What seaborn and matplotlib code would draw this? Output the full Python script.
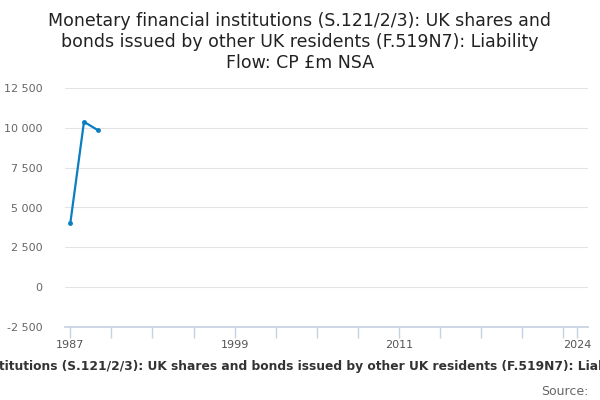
import matplotlib
matplotlib.use('Agg')
import matplotlib.pyplot as plt
import seaborn as sns
import pandas as pd
from matplotlib.ticker import FuncFormatter

sns.set_theme(style="white")
plt.rcParams['font.family'] = ['DejaVu Sans']

# data
years = [1987, 1988, 1989]
values = [4000, 10380, 9860]

y_ticks = [-2500, 0, 2500, 5000, 7500, 10000, 12500]
x_ticks = list(range(1987, 2024, 3)) + [2024]
x_labels = {1987: "1987", 1999: "1999", 2011: "2011", 2024: "2024"}

title = ("Monetary financial institutions (S.121/2/3): UK shares and\n"
         "bonds issued by other UK residents (F.519N7): Liability\n"
         "Flow: CP £m NSA")
full_name = ("Monetary financial institutions (S.121/2/3): UK shares and bonds issued "
             "by other UK residents (F.519N7): Liability Flow: CP £m NSA")

df = pd.DataFrame({"year": years, "value": values})

fig = plt.figure(figsize=(6, 4), dpi=100)
ax = fig.add_axes([0.108, 0.1825, 0.872, 0.5975])

sns.lineplot(data=df, x="year", y="value", ax=ax, color="#0b7dc1", linewidth=1.6,
             marker="o", markersize=3.5, markeredgewidth=0)

ax.set_xlim(1986.6, 2024.8)
ax.set_ylim(-2500, 12500)
ax.set_yticks(y_ticks)
ax.yaxis.set_major_formatter(FuncFormatter(lambda v, p: f"{int(v):,}".replace(",", " ")))
ax.set_xticks(x_ticks)
ax.set_xticklabels([x_labels.get(t, "") for t in x_ticks])
ax.grid(axis="y", color="#e3e3e3", linewidth=0.8)
ax.set_axisbelow(True)
for s in ["top", "right", "left"]:
    ax.spines[s].set_visible(False)
ax.spines["bottom"].set_color("#c6d2e3")
ax.tick_params(axis="x", bottom=True, colors="#c6d2e3", length=8, width=1,
               direction="out", pad=1, labelcolor="#555555", labelsize=8)
ax.tick_params(axis="y", left=False, labelcolor="#666666", labelsize=8, pad=10)
ax.set_xlabel("")
ax.set_ylabel("")

fig.text(0.5, 0.97, title, ha="center", va="top", fontsize=12.5, color="#222222",
         linespacing=1.2)
fig.text(0.5, 0.083, full_name, ha="center", va="center", fontsize=8.8,
         fontweight="bold", color="#333333")
fig.text(0.98, 0.022, "Source:", ha="right", va="center", fontsize=9, color="#666666")

fig.savefig("out.png", dpi=100)
